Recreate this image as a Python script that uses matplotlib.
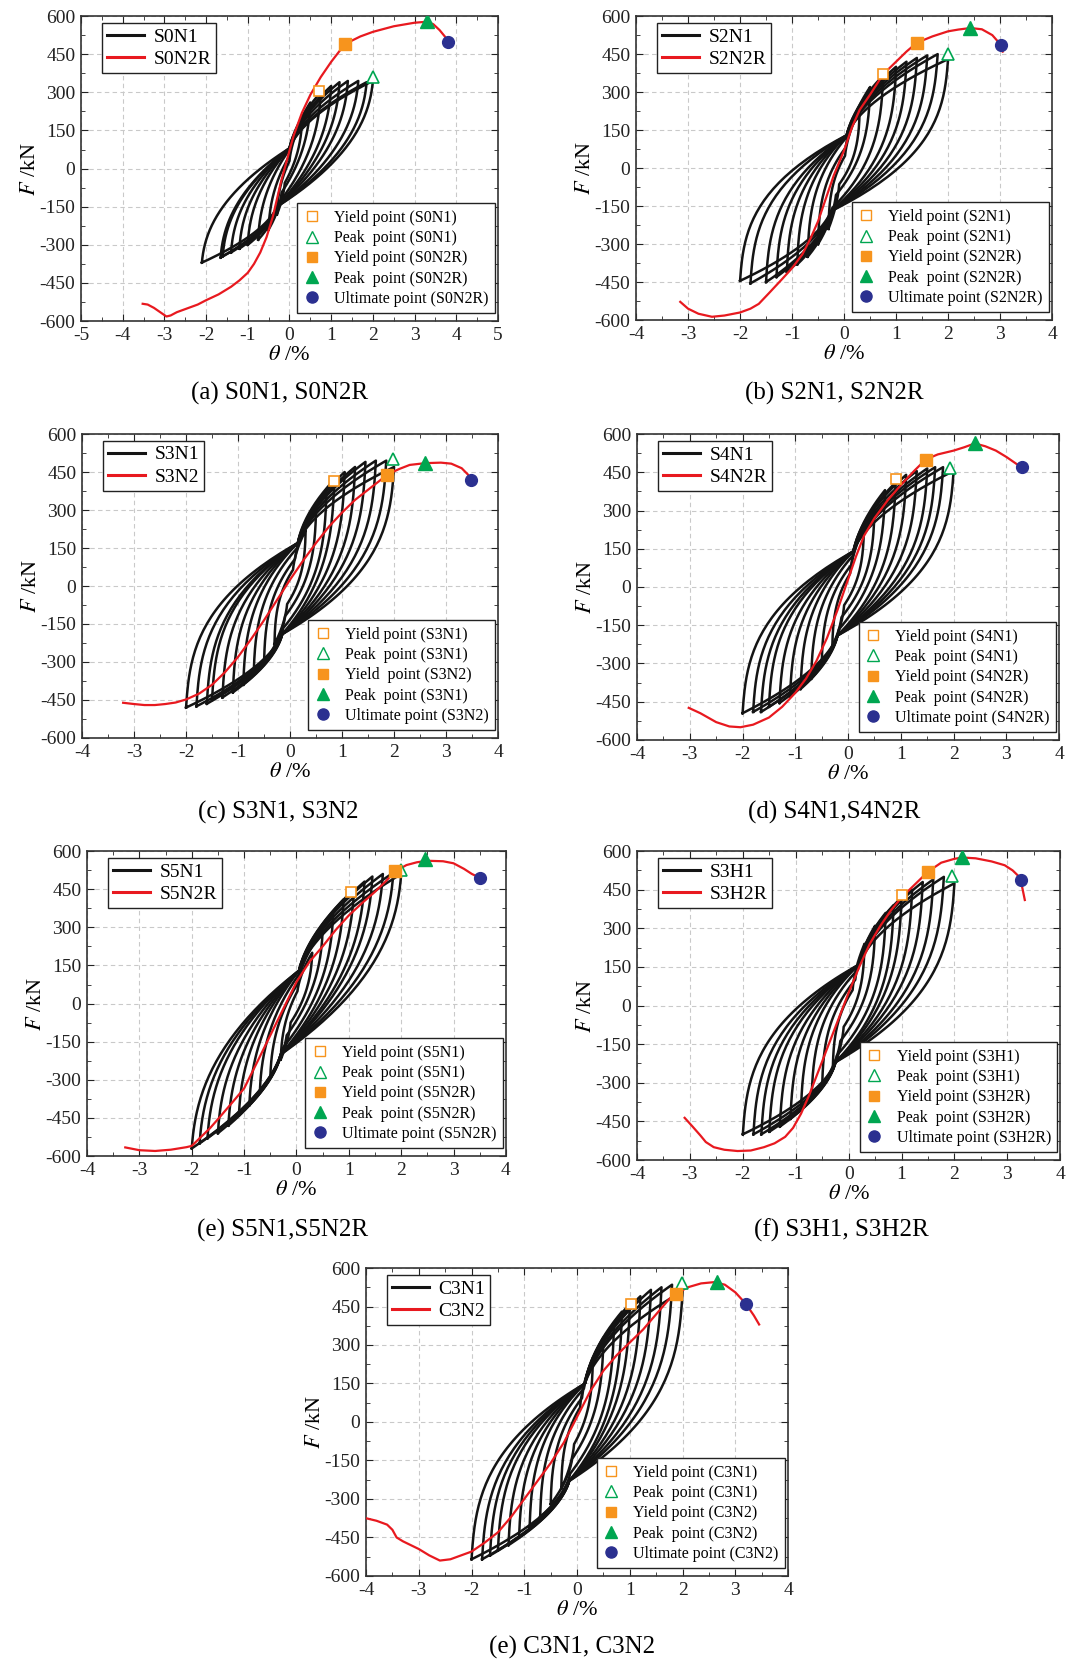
import numpy as np
import matplotlib
matplotlib.use("Agg")
import matplotlib.pyplot as plt
from matplotlib.lines import Line2D
from matplotlib.ticker import MultipleLocator

plt.rcParams['font.family'] = 'serif'
plt.rcParams['font.serif'] = ['Liberation Serif', 'DejaVu Serif']
plt.rcParams['mathtext.fontset'] = 'stix'
plt.rcParams['axes.unicode_minus'] = False

# ---- cyclic specimens: peak (theta %, F kN) of each loading level ----
s0n1_pos_theta = [0.3, 0.5, 0.75, 1.0, 1.2, 1.4, 1.65, 1.85, 2.0]
s0n1_pos_force = [190, 260, 300, 325, 340, 345, 345, 340, 345]
s0n1_neg_theta = [-0.3, -0.5, -0.75, -1.0, -1.2, -1.4, -1.6, -1.65, -2.1]
s0n1_neg_force = [-180, -240, -280, -300, -315, -330, -345, -350, -370]

s2n1_pos_theta = [0.3, 0.5, 0.75, 1.0, 1.2, 1.4, 1.6, 1.8, 2.0]
s2n1_pos_force = [230, 320, 365, 400, 420, 435, 445, 450, 430]
s2n1_neg_theta = [-0.3, -0.5, -0.7, -0.9, -1.1, -1.3, -1.5, -1.8, -2.0]
s2n1_neg_force = [-240, -300, -350, -380, -410, -430, -450, -455, -445]

s3n1_pos_theta = [0.3, 0.5, 0.7, 0.85, 1.05, 1.25, 1.45, 1.65, 1.85, 2.0]
s3n1_pos_force = [220, 300, 370, 420, 450, 470, 490, 495, 495, 470]
s3n1_neg_theta = [-0.3, -0.5, -0.7, -0.9, -1.1, -1.3, -1.5, -1.6, -1.8, -2.0]
s3n1_neg_force = [-230, -300, -350, -390, -420, -440, -450, -465, -475, -480]

s4n1_pos_theta = [0.3, 0.5, 0.7, 0.9, 1.1, 1.3, 1.5, 1.65, 1.8, 2.0]
s4n1_pos_force = [230, 300, 380, 410, 440, 455, 465, 470, 470, 455]
s4n1_neg_theta = [-0.3, -0.5, -0.7, -0.9, -1.1, -1.3, -1.5, -1.65, -1.8, -2.0]
s4n1_neg_force = [-240, -300, -360, -400, -430, -455, -470, -490, -490, -495]

s5n1_pos_theta = [0.3, 0.5, 0.7, 0.9, 1.1, 1.3, 1.45, 1.65, 1.85, 2.0]
s5n1_pos_force = [200, 290, 350, 410, 450, 480, 500, 510, 515, 510]
s5n1_neg_theta = [-0.3, -0.5, -0.7, -0.9, -1.1, -1.3, -1.5, -1.7, -1.85, -2.0]
s5n1_neg_force = [-220, -290, -350, -400, -440, -480, -510, -530, -550, -570]

s3h1_pos_theta = [0.3, 0.5, 0.7, 0.85, 1.0, 1.2, 1.4, 1.6, 1.8, 2.0]
s3h1_pos_force = [240, 310, 360, 390, 420, 450, 480, 490, 500, 475]
s3h1_neg_theta = [-0.3, -0.5, -0.7, -0.9, -1.1, -1.3, -1.5, -1.65, -1.8, -2.0]
s3h1_neg_force = [-250, -310, -360, -400, -440, -470, -490, -500, -500, -500]

c3n1_pos_theta = [0.3, 0.5, 0.7, 0.85, 1.0, 1.2, 1.4, 1.6, 1.8, 2.0]
c3n1_pos_force = [250, 330, 380, 430, 460, 490, 515, 525, 535, 510]
c3n1_neg_theta = [-0.3, -0.5, -0.7, -0.9, -1.1, -1.3, -1.5, -1.65, -1.8, -2.0]
c3n1_neg_force = [-260, -320, -370, -410, -450, -480, -500, -520, -535, -535]

# pinching points of the loops (theta, F): reloading / unloading branch
s0n1_pinch = [(0.0, 80), (-0.3, -150)]
s2n1_pinch = [(0.05, 130), (-0.25, -170)]
s3n1_pinch = [(0.15, 170), (-0.15, -190)]
s4n1_pinch = [(0.1, 140), (-0.2, -190)]
s5n1_pinch = [(0.05, 130), (-0.3, -200)]
s3h1_pinch = [(0.2, 160), (-0.25, -220)]
c3n1_pinch = [(0.15, 150), (-0.15, -230)]

# ---- monotonic specimens ----
s0n2r_theta = [-3.52, -3.4, -3.25, -3.1, -2.95, -2.85, -2.7, -2.5, -2.2, -2.0, -1.7, -1.4, -1.2, -1.0,
               -0.85, -0.7, -0.55, -0.4, -0.3, -0.2, -0.05, 0.1, 0.3, 0.5, 0.75, 1.0, 1.33, 1.7, 2.0,
               2.5, 3.0, 3.3, 3.45, 3.6, 3.8]
s0n2r_force = [-532, -535, -548, -565, -582, -578, -565, -553, -535, -518, -495, -465, -440, -410,
               -375, -330, -270, -190, -120, -50, 40, 130, 220, 290, 360, 420, 490, 520, 538,
               560, 574, 578, 568, 545, 505]

s2n2r_theta = [-3.15, -3.0, -2.8, -2.54, -2.3, -2.0, -1.8, -1.64, -1.45, -1.2, -1.0, -0.8, -0.65, -0.5,
               -0.35, -0.2, 0.0, 0.15, 0.3, 0.5, 0.75, 1.0, 1.2, 1.4, 1.7, 2.0, 2.2, 2.43, 2.65, 2.85,
               3.0, 3.05]
s2n2r_force = [-528, -555, -575, -587, -582, -570, -555, -536, -495, -440, -395, -340, -280, -210,
               -120, -30, 70, 160, 230, 290, 370, 420, 460, 495, 520, 540, 547, 553, 548, 525,
               490, 460]

s3n2_theta = [-3.21, -3.0, -2.8, -2.6, -2.4, -2.2, -2.0, -1.75, -1.5, -1.25, -1.0, -0.75, -0.5, -0.25,
              0.0, 0.25, 0.5, 0.75, 1.0, 1.25, 1.5, 1.75, 1.87, 2.1, 2.3, 2.6, 2.9, 3.1, 3.3, 3.42, 3.48]
s3n2_force = [-461, -466, -470, -470, -466, -460, -448, -425, -390, -340, -280, -210, -135, -55,
              25, 100, 170, 235, 290, 340, 380, 420, 440, 462, 478, 485, 487, 483, 465, 440, 420]

s4n2r_theta = [-3.02, -2.8, -2.5, -2.25, -2.04, -1.8, -1.5, -1.25, -1.0, -0.8, -0.6, -0.4, -0.2, 0.0,
               0.15, 0.3, 0.5, 0.75, 1.0, 1.25, 1.47, 1.7, 2.0, 2.2, 2.4, 2.6, 2.8, 3.0, 3.28]
s4n2r_force = [-474, -495, -530, -547, -550, -540, -512, -470, -415, -360, -290, -200, -90, 30,
               120, 200, 270, 340, 400, 455, 500, 520, 535, 548, 563, 552, 535, 510, 470]

s5n2r_theta = [-3.27, -3.0, -2.7, -2.4, -2.1, -2.0, -1.85, -1.65, -1.5, -1.25, -1.0, -0.75, -0.5, -0.25,
               0.0, 0.25, 0.5, 0.75, 1.0, 1.25, 1.5, 1.7, 1.88, 2.1, 2.3, 2.5, 2.8, 3.0, 3.2, 3.35, 3.5]
s5n2r_force = [-566, -577, -580, -575, -565, -560, -530, -490, -455, -395, -334, -230, -125, -20,
               85, 165, 225, 290, 347, 395, 440, 480, 520, 545, 556, 562, 560, 552, 530, 510, 495]

s3h2r_theta = [-3.1, -2.95, -2.8, -2.7, -2.55, -2.35, -2.1, -1.85, -1.6, -1.4, -1.2, -1.05, -0.9, -0.75,
               -0.6, -0.45, -0.3, -0.15, 0.0, 0.2, 0.4, 0.6, 0.8, 1.0, 1.25, 1.5, 1.75, 2.0, 2.15, 2.4,
               2.7, 2.95, 3.1, 3.2, 3.27, 3.3, 3.33]
s3h2r_force = [-436, -470, -505, -530, -550, -560, -565, -563, -550, -535, -510, -475, -420, -350,
               -270, -190, -110, -30, 50, 150, 240, 310, 370, 420, 470, 520, 555, 570, 575, 572,
               560, 545, 525, 505, 470, 440, 410]

c3n2_theta = [-4.0, -3.8, -3.6, -3.5, -3.42, -3.3, -3.0, -2.8, -2.6, -2.4, -2.2, -2.0, -1.75, -1.5,
              -1.25, -1.0, -0.75, -0.5, -0.25, 0.0, 0.25, 0.5, 0.75, 1.0, 1.25, 1.5, 1.75, 1.88, 2.1,
              2.35, 2.6, 2.8, 3.0, 3.2, 3.35, 3.45]
c3n2_force = [-375, -385, -400, -420, -450, -465, -495, -520, -540, -535, -520, -505, -470, -430,
              -370, -300, -230, -160, -80, 20, 120, 200, 260, 310, 360, 420, 480, 500, 525,
              540, 545, 535, 505, 460, 415, 380]

# characteristic points: yield N1, peak N1, yield N2, peak N2, ultimate N2
s0_points = [(0.72, 305), (2.0, 360), (1.33, 490), (3.3, 580), (3.8, 500)]
s2_points = [(0.75, 370), (2.0, 450), (1.4, 495), (2.43, 553), (3.02, 485)]
s3_points = [(0.85, 415), (1.97, 500), (1.87, 440), (2.6, 485), (3.48, 420)]
s4_points = [(0.9, 422), (1.93, 468), (1.47, 500), (2.4, 563), (3.3, 470)]
s5_points = [(1.05, 440), (2.0, 525), (1.88, 520), (2.45, 568), (3.5, 495)]
s3h_points = [(1.0, 430), (1.95, 502), (1.5, 520), (2.15, 577), (3.25, 487)]
c3_points = [(1.03, 458), (1.98, 540), (1.88, 500), (2.65, 545), (3.2, 460)]

RED = '#e8191f'
ORANGE = '#f7941d'
GREEN = '#00a651'
NAVY = '#2b3090'
BLACK = '#141414'


def branch(a, b, p, w, n=50):
    # curved path a -> b: force changes evenly, rotation lags (steep start, flatter end)
    t = np.linspace(0, 1, n)
    s = w * t + (1 - w) * t ** p
    return a[0] + (b[0] - a[0]) * s, a[1] + (b[1] - a[1]) * t


def loops(ax, pos_t, pos_f, neg_t, neg_f, pinch, shape):
    (xu, cu), (xd, cd) = pinch
    w_out, p_out, w_in, p_in = shape
    for tp, fp, tn, fn in zip(pos_t, pos_f, neg_t, neg_f):
        k = min(1.0, max(tp, -tn) / 0.8)
        up = (xu * k, cu * k)
        dn = (xd * k, cd * k)
        segs = [branch((tn, fn), up, p_out, w_out), branch(up, (tp, fp), p_in, w_in),
                branch((tp, fp), dn, p_out, w_out), branch(dn, (tn, fn), p_in, w_in)]
        xs = np.concatenate([s[0] for s in segs])
        ys = np.concatenate([s[1] for s in segs])
        ax.plot(xs, ys, color=BLACK, lw=1.8, zorder=2, solid_joinstyle='round')


def panel(ax, cyc, mono, pts, names, labels, caption, xlim, cap_xy, shape=(0.1, 2.8, 0.3, 1.9)):
    loops(ax, *cyc, shape=shape)
    ax.plot(mono[0], mono[1], color=RED, lw=1.6, zorder=3, solid_joinstyle='round')
    y1, p1, y2, p2, u2 = pts
    ax.plot(*y1, marker='s', ms=7.5, mfc='white', mec=ORANGE, mew=1.2, ls='none', zorder=5)
    ax.plot(*p1, marker='^', ms=9, mfc='white', mec=GREEN, mew=1.2, ls='none', zorder=5)
    ax.plot(*y2, marker='s', ms=8, mfc=ORANGE, mec=ORANGE, ls='none', zorder=5)
    ax.plot(*p2, marker='^', ms=10, mfc=GREEN, mec=GREEN, ls='none', zorder=5)
    ax.plot(*u2, marker='o', ms=8.5, mfc=NAVY, mec=NAVY, ls='none', zorder=5)

    ax.set_xlim(*xlim)
    ax.set_ylim(-600, 600)
    ax.xaxis.set_major_locator(MultipleLocator(1))
    ax.xaxis.set_minor_locator(MultipleLocator(0.5))
    ax.yaxis.set_major_locator(MultipleLocator(150))
    ax.yaxis.set_minor_locator(MultipleLocator(75))
    ax.tick_params(which='both', direction='in', top=True, right=True, labelsize=14, colors='#222')
    ax.tick_params(which='major', length=5, pad=4)
    ax.tick_params(which='minor', length=3)
    ax.grid(True, which='major', ls=(0, (4, 3)), color='#c9c9c9', lw=0.8)
    ax.set_axisbelow(True)
    for sp in ax.spines.values():
        sp.set_linewidth(1.2)
        sp.set_color('#333')
    ax.set_xlabel(r'$\theta$ /%', fontsize=16, labelpad=2)
    ax.set_ylabel(r'$F$ /kN', fontsize=16, labelpad=0)

    h1 = [Line2D([], [], color=BLACK, lw=2.2), Line2D([], [], color=RED, lw=2.2)]
    leg1 = ax.legend(h1, names, loc='upper left', bbox_to_anchor=(0.05, 0.977), borderaxespad=0,
                     fontsize=14, handlelength=1.9, labelspacing=0.25, fancybox=False,
                     edgecolor='#222', framealpha=1, borderpad=0.25, handletextpad=0.5)
    leg1.get_frame().set_linewidth(1.0)
    ax.add_artist(leg1)

    h2 = [Line2D([], [], marker='s', ms=7, mfc='white', mec=ORANGE, ls='none'),
          Line2D([], [], marker='^', ms=8, mfc='white', mec=GREEN, ls='none'),
          Line2D([], [], marker='s', ms=7, mfc=ORANGE, mec=ORANGE, ls='none'),
          Line2D([], [], marker='^', ms=8, mfc=GREEN, mec=GREEN, ls='none'),
          Line2D([], [], marker='o', ms=8, mfc=NAVY, mec=NAVY, ls='none')]
    leg2 = ax.legend(h2, labels, loc='lower right', bbox_to_anchor=(0.993, 0.025), borderaxespad=0,
                     fontsize=11.5, handlelength=1.0, labelspacing=0.27, fancybox=False,
                     edgecolor='#222', framealpha=1, borderpad=0.4, handletextpad=0.9)
    leg2.get_frame().set_linewidth(1.0)

    ax.figure.text(cap_xy[0], cap_xy[1], caption, ha='center', va='center', fontsize=18)


def marker_labels(n1, n2, peak2_name=None, yield2_sep=' '):
    return ['Yield point (%s)' % n1, 'Peak  point (%s)' % n1,
            'Yield%spoint (%s)' % (yield2_sep, n2), 'Peak  point (%s)' % (peak2_name or n2),
            'Ultimate point (%s)' % n2]


fig = plt.figure(figsize=(10.88, 16.61), dpi=100)

ax_a = fig.add_axes([0.0744, 0.8067, 0.3833, 0.1836])
ax_b = fig.add_axes([0.5846, 0.8073, 0.3824, 0.1830])
ax_c = fig.add_axes([0.0754, 0.5557, 0.3824, 0.1830])
ax_d = fig.add_axes([0.5855, 0.5545, 0.3880, 0.1842])
ax_e = fig.add_axes([0.0800, 0.3040, 0.3850, 0.1836])
ax_f = fig.add_axes([0.5855, 0.3016, 0.3890, 0.1860])
ax_g = fig.add_axes([0.3364, 0.0512, 0.3880, 0.1854])

panel(ax_a, (s0n1_pos_theta, s0n1_pos_force, s0n1_neg_theta, s0n1_neg_force, s0n1_pinch),
      (s0n2r_theta, s0n2r_force), s0_points, ['S0N1', 'S0N2R'], marker_labels('S0N1', 'S0N2R'),
      '(a) S0N1, S0N2R', (-5, 5), (0.257, 0.763), shape=(0.12, 2.2, 0.3, 1.9))
panel(ax_b, (s2n1_pos_theta, s2n1_pos_force, s2n1_neg_theta, s2n1_neg_force, s2n1_pinch),
      (s2n2r_theta, s2n2r_force), s2_points, ['S2N1', 'S2N2R'], marker_labels('S2N1', 'S2N2R'),
      '(b) S2N1, S2N2R', (-4, 4), (0.767, 0.763))
panel(ax_c, (s3n1_pos_theta, s3n1_pos_force, s3n1_neg_theta, s3n1_neg_force, s3n1_pinch),
      (s3n2_theta, s3n2_force), s3_points, ['S3N1', 'S3N2'],
      marker_labels('S3N1', 'S3N2', peak2_name='S3N1', yield2_sep='  '),
      '(c) S3N1, S3N2', (-4, 4), (0.256, 0.511))
panel(ax_d, (s4n1_pos_theta, s4n1_pos_force, s4n1_neg_theta, s4n1_neg_force, s4n1_pinch),
      (s4n2r_theta, s4n2r_force), s4_points, ['S4N1', 'S4N2R'], marker_labels('S4N1', 'S4N2R'),
      '(d) S4N1,S4N2R', (-4, 4), (0.767, 0.511))
panel(ax_e, (s5n1_pos_theta, s5n1_pos_force, s5n1_neg_theta, s5n1_neg_force, s5n1_pinch),
      (s5n2r_theta, s5n2r_force), s5_points, ['S5N1', 'S5N2R'], marker_labels('S5N1', 'S5N2R'),
      '(e) S5N1,S5N2R', (-4, 4), (0.26, 0.2595), shape=(0.12, 2.3, 0.3, 1.8))
panel(ax_f, (s3h1_pos_theta, s3h1_pos_force, s3h1_neg_theta, s3h1_neg_force, s3h1_pinch),
      (s3h2r_theta, s3h2r_force), s3h_points, ['S3H1', 'S3H2R'], marker_labels('S3H1', 'S3H2R'),
      '(f) S3H1, S3H2R', (-4, 4), (0.773, 0.2595))
panel(ax_g, (c3n1_pos_theta, c3n1_pos_force, c3n1_neg_theta, c3n1_neg_force, c3n1_pinch),
      (c3n2_theta, c3n2_force), c3_points, ['C3N1', 'C3N2'], marker_labels('C3N1', 'C3N2'),
      '(e) C3N1, C3N2', (-4, 4), (0.526, 0.0084))

fig.savefig('out.png', dpi=100)
